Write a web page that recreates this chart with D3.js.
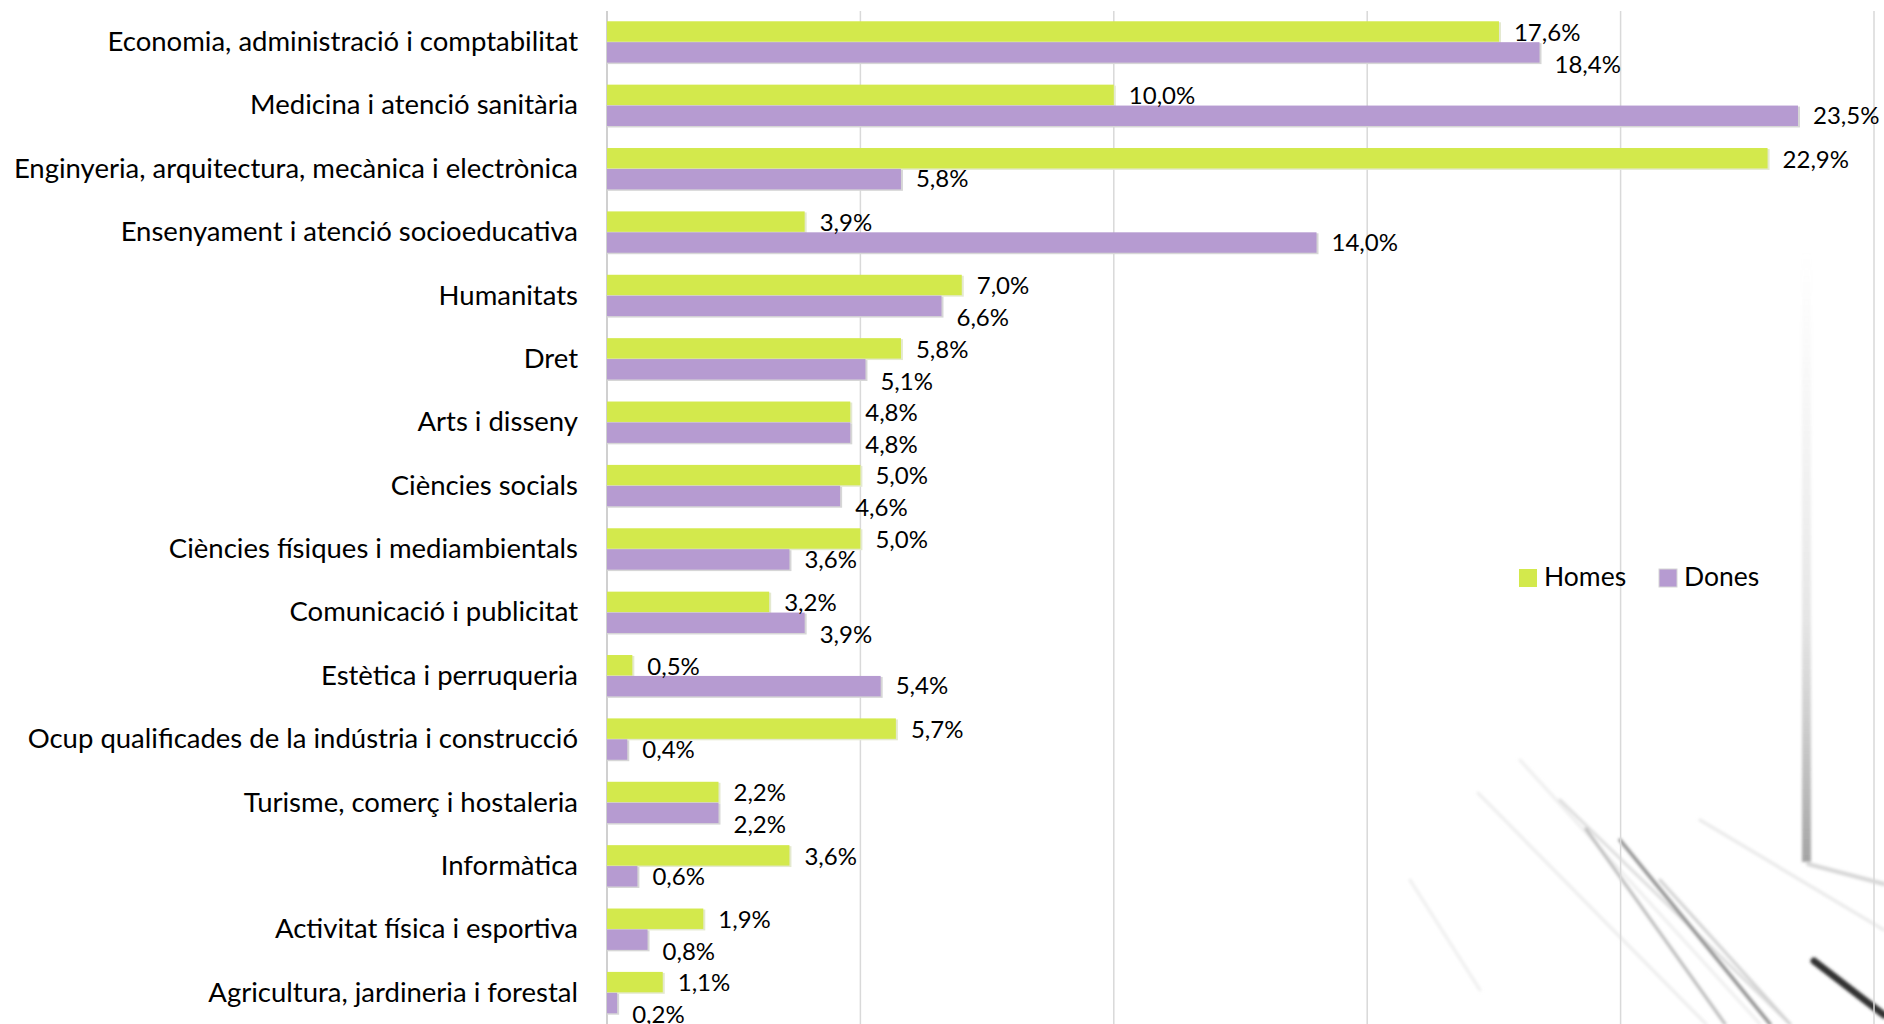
<!DOCTYPE html>
<html>
<head>
<meta charset="utf-8">
<script src="https://cdn.jsdelivr.net/npm/d3@7"></script>
<style>
  html, body { margin: 0; padding: 0; background: #ffffff; }
  svg { display: block; }
  text { font-family: Lato, "Open Sans", sans-serif; fill: #000; }
</style>
</head>
<body>
<svg id="chart" width="1884" height="1024"></svg>
<script>
// ---- data ----
const categories = [
  "Economia, administració i comptabilitat",
  "Medicina i atenció sanitària",
  "Enginyeria, arquitectura, mecànica i electrònica",
  "Ensenyament i atenció socioeducativa",
  "Humanitats",
  "Dret",
  "Arts i disseny",
  "Ciències socials",
  "Ciències físiques i mediambientals",
  "Comunicació i publicitat",
  "Estètica i perruqueria",
  "Ocup qualificades de la indústria i construcció",
  "Turisme, comerç i hostaleria",
  "Informàtica",
  "Activitat física i esportiva",
  "Agricultura, jardineria i forestal"
];
const homes = [17.6, 10.0, 22.9, 3.9, 7.0, 5.8, 4.8, 5.0, 5.0, 3.2, 0.5, 5.7, 2.2, 3.6, 1.9, 1.1];
const dones = [18.4, 23.5, 5.8, 14.0, 6.6, 5.1, 4.8, 4.6, 3.6, 3.9, 5.4, 0.4, 2.2, 0.6, 0.8, 0.2];
const seriesNames = ["Homes", "Dones"];
const xTicks = [0, 5, 10, 15, 20, 25];

// ---- styles ----
const colors = { Homes: "#d3e94c", Dones: "#b69bd1" };
const valueFont = 24;
const catFont = 27.5;
const legendFont = 26.5;

const svg = d3.select("#chart");

// ---- decorative background (theme) ----
const defs = svg.append("defs");
const g1 = defs.append("linearGradient").attr("id", "vbar").attr("x1", 0).attr("y1", 0).attr("x2", 0).attr("y2", 1);
g1.append("stop").attr("offset", "0").attr("stop-color", "#bbb").attr("stop-opacity", 0);
g1.append("stop").attr("offset", "0.6").attr("stop-color", "#999").attr("stop-opacity", 0.25);
g1.append("stop").attr("offset", "1").attr("stop-color", "#666").attr("stop-opacity", 0.6);
defs.append("filter").attr("id", "soft").append("feGaussianBlur").attr("stdDeviation", 1.6);
const deco = svg.append("g").attr("class", "deco").attr("filter", "url(#soft)");
deco.append("rect").attr("x", 1802).attr("y", 250).attr("width", 9).attr("height", 612).attr("fill", "url(#vbar)");
const decoLines = [
  [[1808, 864], [1884, 884], "#d6d6d6", 4],
  [[1478, 793], [1706, 1024], "#ececec", 3],
  [[1520, 760], [1760, 1024], "#eeeeee", 3],
  [[1560, 800], [1790, 1024], "#dcdcdc", 3],
  [[1586, 829], [1725, 1024], "#b8b8b8", 3],
  [[1620, 840], [1770, 1024], "#8f8f8f", 3.5],
  [[1660, 880], [1790, 1024], "#d0d0d0", 3],
  [[1700, 820], [1884, 930], "#e8e8e8", 3],
  [[1814, 961], [1884, 1015], "#333", 7],
  [[1410, 880], [1480, 990], "#eeeeee", 3]
];
decoLines.forEach(([a, b, c, w]) => {
  deco.append("line").attr("x1", a[0]).attr("y1", a[1]).attr("x2", b[0]).attr("y2", b[1])
    .attr("stroke", c).attr("stroke-width", w).attr("stroke-linecap", "round");
});

// ---- scales ----
const x = d3.scaleLinear().domain([0, 25]).range([607, 1874]);
const y = d3.scaleBand().domain(categories).range([10.5, 1024.5]).paddingInner(0.34).paddingOuter(0.17);
const ys = d3.scaleBand().domain(seriesNames).range([0, y.bandwidth()]);

// gridlines
svg.append("g").selectAll("line").data(xTicks.slice(1)).join("line")
  .attr("x1", d => x(d)).attr("x2", d => x(d))
  .attr("y1", 11).attr("y2", 1024)
  .attr("stroke", "#d9d9d9").attr("stroke-width", 1.5);

// y axis (category labels)
const yAxis = d3.axisLeft(y).tickSize(0).tickPadding(29);
const ag = svg.append("g").attr("transform", `translate(${x(0)},0)`).call(yAxis);
ag.select(".domain").remove();
ag.selectAll("text").style("font-size", catFont + "px").attr("font-family", "Lato").attr("fill", "#000");
svg.append("line").attr("x1", x(0)).attr("x2", x(0)).attr("y1", 11).attr("y2", 1024)
  .attr("stroke", "#d0d0d0").attr("stroke-width", 2);

// bars
const rows = categories.map((c, i) => ({ c, Homes: homes[i], Dones: dones[i] }));
const groups = svg.append("g").selectAll("g").data(rows).join("g")
  .attr("transform", d => `translate(0,${y(d.c)})`);

seriesNames.forEach(s => {
  groups.append("rect")
    .attr("x", x(0)).attr("y", ys(s) + 1)
    .attr("width", d => x(d[s]) - x(0) + 2)
    .attr("height", ys.bandwidth())
    .attr("fill", s === "Dones" ? "#d6d6d6" : "#e4e9cf");
  groups.append("rect")
    .attr("x", x(0)).attr("y", ys(s))
    .attr("width", d => x(d[s]) - x(0))
    .attr("height", ys.bandwidth() - 0.5)
    .attr("fill", colors[s]);
});

// value labels
const fmt = v => d3.format(".1f")(v).replace(".", ",") + "%";
const labelOffset = 15;
groups.each(function (d) {
  const g = d3.select(this);
  g.append("text")
    .attr("x", x(d.Homes) + labelOffset)
    .attr("y", ys("Homes") + ys.bandwidth() / 2 + 3)
    .attr("dominant-baseline", "middle")
    .style("font-size", valueFont + "px")
    .text(fmt(d.Homes));
  const td = g.append("text")
    .attr("x", x(d.Dones) + labelOffset)
    .attr("y", ys("Dones") + ys.bandwidth() / 2 + 2)
    .attr("dominant-baseline", "middle")
    .style("font-size", valueFont + "px")
    .text(fmt(d.Dones));
  const wD = td.node().getComputedTextLength();
  if (Math.abs(x(d.Homes) - x(d.Dones)) < wD + 10) {
    td.attr("y", ys("Dones") + ys.bandwidth() / 2 + 14);
  }
});

// legend
const legend = svg.append("g").attr("transform", "translate(1519,578)");
const legX = { Homes: 0, Dones: 140 };
seriesNames.forEach(s => {
  const lg = legend.append("g").attr("transform", `translate(${legX[s]},0)`);
  lg.append("rect").attr("x", 0).attr("y", -9).attr("width", 18).attr("height", 18)
    .attr("fill", colors[s]).attr("stroke", s === "Dones" ? "#d6d6d6" : "none").attr("stroke-width", 1);
  lg.append("text").attr("x", 25).attr("y", 1).attr("dominant-baseline", "middle")
    .style("font-size", legendFont + "px").text(s);
});
</script>
</body>
</html>
